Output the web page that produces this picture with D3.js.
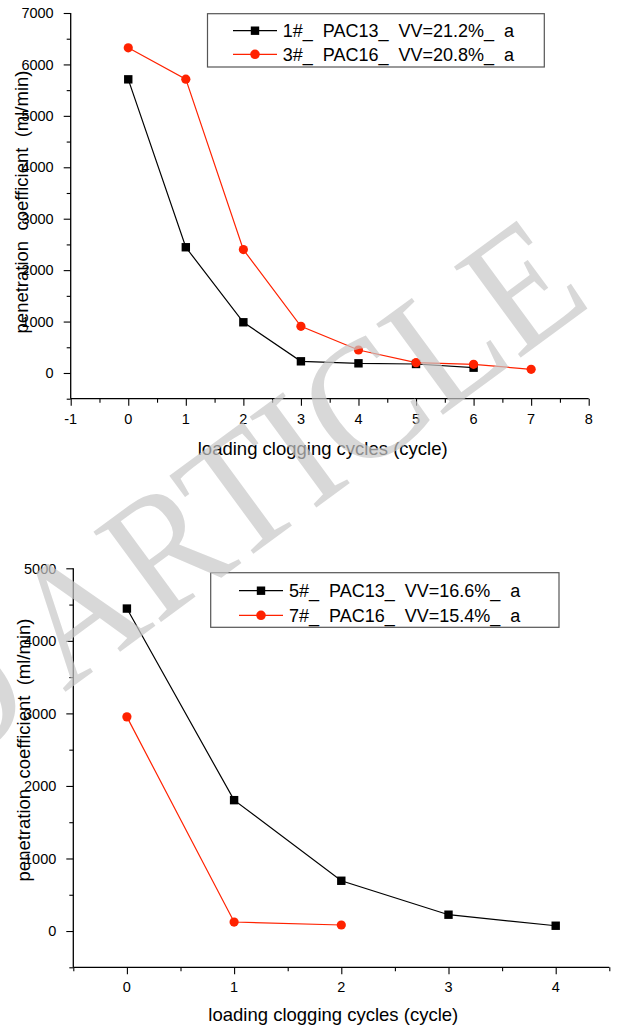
<!DOCTYPE html>
<html>
<head>
<meta charset="utf-8">
<script src="https://cdn.jsdelivr.net/npm/d3@7"></script>
<style>
  html, body { margin: 0; padding: 0; background: #fff; }
  svg { display: block; }
  text { font-family: "Liberation Sans", Arial, sans-serif; fill: #000; }
</style>
</head>
<body>
<svg id="chart" width="619" height="1030"></svg>
<script>
// ---------- data ----------
const topCycles1 = [0, 1, 2, 3, 4, 5, 6];
const topValues1 = [5710, 2445, 986, 227, 188, 175, 103];
const topCycles3 = [0, 1, 2, 3, 4, 5, 6, 7];
const topValues3 = [6323, 5714, 2399, 908, 447, 200, 169, 72];
const topSeriesNames = ["1#_  PAC13_  VV=21.2%_  a", "3#_  PAC16_  VV=20.8%_  a"];
const topXTicks = [-1, 0, 1, 2, 3, 4, 5, 6, 7, 8];
const topYTicks = [0, 1000, 2000, 3000, 4000, 5000, 6000, 7000];

const botCycles5 = [0, 1, 2, 3, 4];
const botValues5 = [4445, 1804, 693, 225, 73];
const botCycles7 = [0, 1, 2];
const botValues7 = [2952, 124, 83];
const botSeriesNames = ["5#_  PAC13_  VV=16.6%_  a", "7#_  PAC16_  VV=15.4%_  a"];
const botXTicks = [0, 1, 2, 3, 4];
const botYTicks = [0, 1000, 2000, 3000, 4000, 5000];

const xTitle = "loading clogging cycles (cycle)";
const yTitle = "penetration  coefficient  (ml/min)";
const watermarkText = "ACCEPTED ARTICLE";

const BLACK = "#000000";
const RED = "#ff2200";

const svg = d3.select("#chart");

function drawPanel(cfg) {
  const g = svg.append("g");
  const x = d3.scaleLinear().domain(cfg.xDomain).range([cfg.left, cfg.right]);
  const y = d3.scaleLinear().domain(cfg.yDomain).range([cfg.bottom, cfg.top]);

  const xMinor = d3.range(cfg.xDomain[0], cfg.xDomain[1] + 1e-9, 0.5)
    .filter(v => !cfg.xTicks.includes(v));
  const yMinor = d3.range(cfg.yDomain[0], cfg.yDomain[1] + 1e-9, 500)
    .filter(v => !cfg.yTicks.includes(v));

  // x axis
  const xg = g.append("g").attr("transform", `translate(0,${cfg.bottom})`)
    .call(d3.axisBottom(x).tickValues(cfg.xTicks).tickSize(7).tickFormat(""));
  xg.select(".domain").attr("stroke", "#000").attr("stroke-width", 1.3)
    .attr("d", `M${cfg.left},0H${cfg.right}`);
  xg.selectAll(".tick line").attr("stroke", "#000").attr("stroke-width", 1.1);
  const xgm = g.append("g").attr("transform", `translate(0,${cfg.bottom})`)
    .call(d3.axisBottom(x).tickValues(xMinor).tickSize(4).tickFormat(""));
  xgm.select(".domain").remove();
  xgm.selectAll(".tick line").attr("stroke", "#000").attr("stroke-width", 1.1);
  g.selectAll(null).data(cfg.xTicks).enter().append("text")
    .attr("x", d => x(d)).attr("y", cfg.bottom + 25)
    .attr("text-anchor", "middle")
    .style("font-size", "14.5px")
    .text(d => String(d));

  // y axis
  const yg = g.append("g").attr("transform", `translate(${cfg.left},0)`)
    .call(d3.axisLeft(y).tickValues(cfg.yTicks).tickSize(7).tickFormat(""));
  yg.select(".domain").attr("stroke", "#000").attr("stroke-width", 1.3)
    .attr("d", `M0,${cfg.bottom}V${cfg.top}`);
  yg.selectAll(".tick line").attr("stroke", "#000").attr("stroke-width", 1.1);
  const ygm = g.append("g").attr("transform", `translate(${cfg.left},0)`)
    .call(d3.axisLeft(y).tickValues(yMinor).tickSize(4).tickFormat(""));
  ygm.select(".domain").remove();
  ygm.selectAll(".tick line").attr("stroke", "#000").attr("stroke-width", 1.1);
  g.selectAll(null).data(cfg.yTicks).enter().append("text")
    .attr("x", cfg.left - 17).attr("y", d => y(d) + 5.2)
    .attr("text-anchor", "end")
    .style("font-size", "14.5px")
    .text(d => String(d));

  // titles
  g.append("text")
    .attr("x", (cfg.left + cfg.right) / 2 + cfg.xTitleDx)
    .attr("y", cfg.xTitleY)
    .attr("text-anchor", "middle")
    .style("font-size", "18.5px")
    .text(xTitle);
  g.append("text")
    .attr("transform", `translate(${cfg.yTitleX},${cfg.yTitleY}) rotate(-90)`)
    .attr("text-anchor", "middle")
    .style("font-size", "18.5px")
    .style("white-space", "pre")
    .text(yTitle);

  // series
  const line = d3.line().x(d => x(d[0])).y(d => y(d[1]));
  cfg.series.forEach(s => {
    const pts = s.xs.map((v, i) => [v, s.ys[i]]);
    g.append("path").datum(pts)
      .attr("d", line).attr("fill", "none")
      .attr("stroke", s.color).attr("stroke-width", 1.2);
  });
  cfg.series.forEach(s => {
    const pts = s.xs.map((v, i) => [v, s.ys[i]]);
    if (s.shape === "square") {
      g.selectAll(null).data(pts).enter().append("rect")
        .attr("x", d => x(d[0]) - 4.2).attr("y", d => y(d[1]) - 4.2)
        .attr("width", 8.4).attr("height", 8.4).attr("fill", s.color);
    } else {
      g.selectAll(null).data(pts).enter().append("circle")
        .attr("cx", d => x(d[0])).attr("cy", d => y(d[1]))
        .attr("r", 4.6).attr("fill", s.color);
    }
  });

  // legend
  const L = cfg.legend;
  g.append("rect").attr("x", L.x0).attr("y", L.y0)
    .attr("width", L.x1 - L.x0).attr("height", L.y1 - L.y0)
    .attr("fill", "#fff").attr("stroke", "#555").attr("stroke-width", 1.2);
  cfg.series.forEach((s, i) => {
    const ry = L.rows[i];
    g.append("line").attr("x1", L.lx0).attr("x2", L.lx1).attr("y1", ry).attr("y2", ry)
      .attr("stroke", s.color).attr("stroke-width", 1.2);
    const mx = (L.lx0 + L.lx1) / 2;
    if (s.shape === "square") {
      g.append("rect").attr("x", mx - 4.2).attr("y", ry - 4.2).attr("width", 8.4).attr("height", 8.4).attr("fill", s.color);
    } else {
      g.append("circle").attr("cx", mx).attr("cy", ry).attr("r", 4.8).attr("fill", s.color);
    }
    g.append("text").attr("x", L.tx).attr("y", ry + 6.3)
      .style("font-size", "18px").style("white-space", "pre")
      .text(s.name);
  });
}

drawPanel({
  xDomain: [-1, 8], yDomain: [-500, 7000],
  left: 70.7, right: 588.7, top: 13, bottom: 398.7,
  xTicks: topXTicks, yTicks: topYTicks,
  xTitleY: 455, xTitleDx: -7, yTitleX: 28, yTitleY: 202,
  series: [
    { xs: topCycles1, ys: topValues1, color: BLACK, shape: "square", name: topSeriesNames[0] },
    { xs: topCycles3, ys: topValues3, color: RED, shape: "circle", name: topSeriesNames[1] }
  ],
  legend: { x0: 207.5, x1: 544.3, y0: 13.7, y1: 67, rows: [30.7, 54.3], lx0: 233, lx1: 277, tx: 282.7 }
});

drawPanel({
  xDomain: [-0.5, 4.5], yDomain: [-500, 5000],
  left: 73.3, right: 609.3, top: 568.3, bottom: 967.3,
  xTicks: botXTicks, yTicks: botYTicks,
  xTitleY: 1021, xTitleDx: -8, yTitleX: 30, yTitleY: 750,
  series: [
    { xs: botCycles5, ys: botValues5, color: BLACK, shape: "square", name: botSeriesNames[0] },
    { xs: botCycles7, ys: botValues7, color: RED, shape: "circle", name: botSeriesNames[1] }
  ],
  legend: { x0: 210.7, x1: 559, y0: 572.7, y1: 627.3, rows: [590.7, 615.3], lx0: 239, lx1: 283, tx: 289 }
});

// watermark
svg.append("text")
  .attr("transform", "translate(595,303) rotate(-36.3) scale(0.92,1)")
  .attr("text-anchor", "end")
  .style("font-family", "'Liberation Serif', 'Times New Roman', serif")
  .style("font-size", "172px")
  .style("fill", "#c8c8c8")
  .attr("opacity", 0.7)
  .text(watermarkText);
</script>
</body>
</html>
